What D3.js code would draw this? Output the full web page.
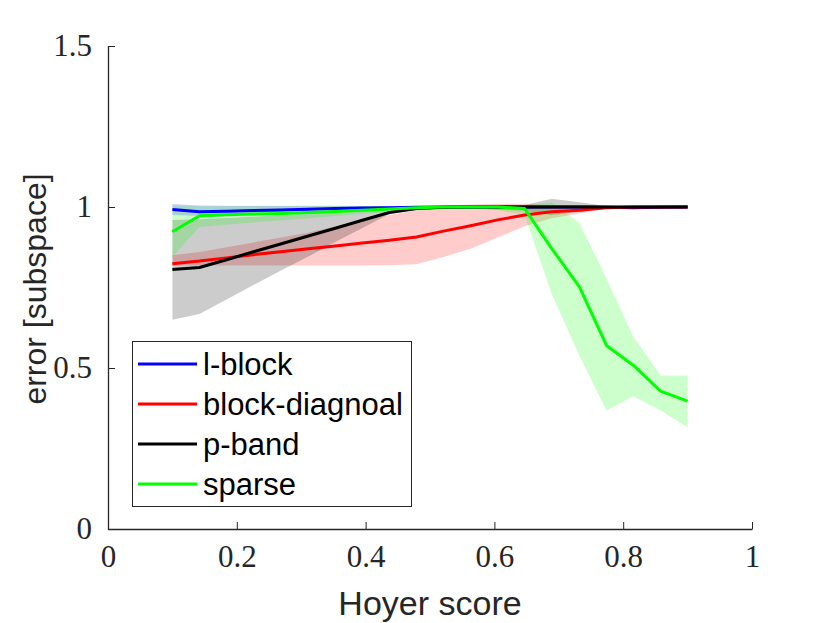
<!DOCTYPE html>
<html>
<head>
<meta charset="utf-8">
<script src="https://cdn.jsdelivr.net/npm/d3@7"></script>
<style>
  body { margin: 0; background: #fff; }
</style>
</head>
<body>
<div id="chart"></div>
<script>
// DATA
const hoyer = [0.100, 0.142, 0.184, 0.226, 0.268, 0.311, 0.353, 0.395, 0.437, 0.479,
               0.521, 0.563, 0.605, 0.647, 0.689, 0.732, 0.774, 0.816, 0.858, 0.900]

const lblock   = [0.992, 0.985, 0.987, 0.989, 0.991, 0.993, 0.995, 0.997, 0.998, 0.999, 1.0, 1.0, 1.0, 1.0, 1.0, 1.0, 0.999, 0.998, 0.999, 1.0]
const lblockLo = [0.975, 0.972, 0.978, 0.982, 0.985, 0.988, 0.990, 0.992, 0.994, 0.996, 0.997, 0.997, 0.997, 0.997, 0.997, 0.997, 0.996, 0.995, 0.996, 0.998]
const lblockHi = [1.009, 1.005, 1.004, 1.004, 1.004, 1.004, 1.004, 1.003, 1.003, 1.003, 1.003, 1.003, 1.003, 1.003, 1.003, 1.003, 1.002, 1.001, 1.002, 1.002]

const blockDiag   = [0.824, 0.832, 0.842, 0.852, 0.861, 0.870, 0.879, 0.888, 0.897, 0.907, 0.925, 0.942, 0.960, 0.975, 0.985, 0.990, 0.998, 1.0, 1.0, 1.0]
const blockDiagLo = [0.818, 0.818, 0.818, 0.818, 0.818, 0.818, 0.818, 0.818, 0.819, 0.822, 0.845, 0.870, 0.905, 0.940, 0.965, 0.980, 0.995, 1.0, 1.0, 1.0]
const blockDiagHi = [0.850, 0.860, 0.875, 0.890, 0.905, 0.920, 0.940, 0.960, 0.975, 0.990, 1.005, 1.008, 1.010, 1.010, 1.005, 1.0, 1.0, 1.0, 1.0, 1.0]

const pband   = [0.806, 0.812, 0.836, 0.861, 0.885, 0.910, 0.934, 0.959, 0.983, 0.995, 0.999, 1.0, 1.0, 1.0, 1.0, 1.0, 1.0, 1.0, 1.0, 1.0]
const pbandLo = [0.650, 0.668, 0.713, 0.758, 0.802, 0.846, 0.891, 0.935, 0.978, 0.990, 0.995, 0.995, 0.992, 0.988, 0.975, 0.985, 0.998, 1.0, 1.0, 1.0]
const pbandHi = [0.960, 0.962, 0.966, 0.970, 0.975, 0.980, 0.985, 0.990, 0.993, 1.000, 1.002, 1.003, 1.004, 1.006, 1.026, 1.015, 1.003, 1.0, 1.0, 1.0]

const sparse   = [0.923, 0.973, 0.976, 0.978, 0.980, 0.983, 0.986, 0.990, 0.994, 0.998, 1.0, 1.0, 1.0, 0.995, 0.871, 0.752, 0.570, 0.508, 0.428, 0.397]
const sparseLo = [0.845, 0.938, 0.945, 0.952, 0.958, 0.965, 0.972, 0.979, 0.985, 0.992, 0.995, 0.995, 0.990, 0.975, 0.730, 0.538, 0.368, 0.412, 0.368, 0.316]
const sparseHi = [1.005, 1.002, 1.002, 1.002, 1.002, 1.002, 1.002, 1.002, 1.003, 1.003, 1.003, 1.003, 1.004, 1.005, 1.015, 0.950, 0.778, 0.596, 0.477, 0.477]

const seriesNames  = ["l-block", "block-diagnoal", "p-band", "sparse"]
const seriesColors = ["#0000ff", "#ff0000", "#000000", "#00ff00"]
const xTicks = [0, 0.2, 0.4, 0.6, 0.8, 1]
const yTicks = [0, 0.5, 1, 1.5]

const series = [
    {mean: lblock, lo: lblockLo, hi: lblockHi},
    {mean: blockDiag, lo: blockDiagLo, hi: blockDiagHi},
    {mean: pband, lo: pbandLo, hi: pbandHi},
    {mean: sparse, lo: sparseLo, hi: sparseHi}
].map((s, i) => ({
    name: seriesNames[i],
    color: seriesColors[i],
    points: hoyer.map((x, j) => ({x: x, y: s.mean[j], lo: s.lo[j], hi: s.hi[j]}))
}))

const width = 830, height = 623
const axisColor = "#262626"

// SCALES
const xScale = d3.scaleLinear().domain([0, 1]).range([108, 752])
const yScale = d3.scaleLinear().domain([0, 1.5]).range([529, 46])

const svg = d3.select("#chart")
    .append("svg")
    .attr("width", width)
    .attr("height", height)
    .style("background", "#fff")

// BANDS
const area = d3.area()
    .x(d => xScale(d.x))
    .y0(d => yScale(d.lo))
    .y1(d => yScale(d.hi))

svg.append("g")
    .selectAll("path")
    .data(series)
    .join("path")
    .attr("d", d => area(d.points))
    .attr("fill", d => d.color)
    .attr("fill-opacity", 0.2)
    .attr("stroke", "none")

// LINES
const line = d3.line()
    .x(d => xScale(d.x))
    .y(d => yScale(d.y))

svg.append("g")
    .selectAll("path")
    .data(series)
    .join("path")
    .attr("d", d => line(d.points))
    .attr("fill", "none")
    .attr("stroke", d => d.color)
    .attr("stroke-width", 3)
    .attr("stroke-linejoin", "round")

// AXES
const xAxis = d3.axisBottom(xScale)
    .tickValues(xTicks)
    .tickSizeInner(-7)
    .tickSizeOuter(0)
    .tickPadding(16)
    .tickFormat(d3.format("~g"))

const yAxis = d3.axisLeft(yScale)
    .tickValues(yTicks)
    .tickSizeInner(-7)
    .tickSizeOuter(0)
    .tickPadding(16)
    .tickFormat(d3.format("~g"))

const gx = svg.append("g")
    .attr("transform", `translate(0, ${yScale(0)})`)
    .call(xAxis)

const gy = svg.append("g")
    .attr("transform", `translate(${xScale(0)}, 0)`)
    .call(yAxis)

for (const g of [gx, gy]) {
    g.select(".domain").attr("stroke", axisColor).attr("stroke-width", 1.3)
    g.selectAll(".tick line").attr("stroke", axisColor).attr("stroke-width", 1)
    g.selectAll(".tick text")
        .attr("fill", axisColor)
        .style("font-family", "'Liberation Serif', 'DejaVu Serif', serif")
        .style("font-size", "31px")
}

// AXIS LABELS
svg.append("text")
    .attr("x", 430)
    .attr("y", 615)
    .attr("text-anchor", "middle")
    .attr("fill", axisColor)
    .style("font-family", "'Liberation Sans', Arial, sans-serif")
    .style("font-size", "34px")
    .text("Hoyer score")

svg.append("text")
    .attr("transform", "translate(46, 289) rotate(-90)")
    .attr("text-anchor", "middle")
    .attr("fill", axisColor)
    .style("font-family", "'Liberation Sans', Arial, sans-serif")
    .style("font-size", "32px")
    .text("error [subspace]")

// LEGEND
const legend = svg.append("g")

legend.append("rect")
    .attr("x", 132.5)
    .attr("y", 341.5)
    .attr("width", 279)
    .attr("height", 165)
    .attr("fill", "#fff")
    .attr("stroke", axisColor)
    .attr("stroke-width", 1)

const rows = legend.selectAll(".row")
    .data(series)
    .join("g")
    .attr("class", "row")
    .attr("transform", (d, i) => `translate(0, ${364 + i * 40})`)

rows.append("line")
    .attr("x1", 138)
    .attr("x2", 197)
    .attr("stroke", d => d.color)
    .attr("stroke-width", 3)

rows.append("text")
    .attr("x", 203)
    .attr("y", 11)
    .attr("fill", "#000")
    .style("font-family", "'Liberation Sans', Arial, sans-serif")
    .style("font-size", "31px")
    .text(d => d.name)
</script>
</body>
</html>
